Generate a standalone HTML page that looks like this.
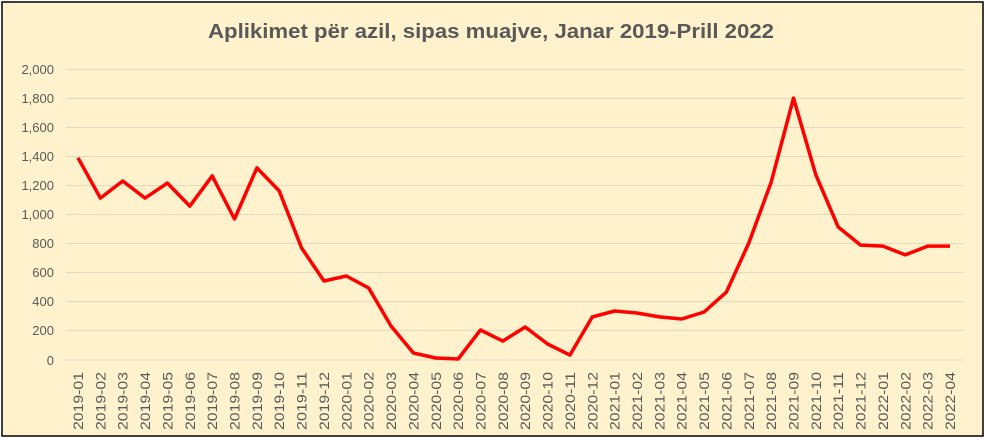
<!DOCTYPE html>
<html><head><meta charset="utf-8"><style>
html,body{margin:0;padding:0;background:#fff;}
svg{display:block;font-family:"Liberation Sans",sans-serif;}
</style></head><body>
<svg width="985" height="440" viewBox="0 0 985 440" xmlns="http://www.w3.org/2000/svg">
<rect x="2" y="2" width="981" height="434" fill="#FFF2CC" stroke="#000" stroke-width="1.5"/>
<text x="491" y="38" text-anchor="middle" font-size="20" font-weight="bold" fill="#595959" textLength="566" lengthAdjust="spacingAndGlyphs">Aplikimet për azil, sipas muajve, Janar 2019-Prill 2022</text>
<g stroke="#E3D9BE" stroke-width="1">
<line x1="66" x2="963" y1="69.5" y2="69.5"/><line x1="66" x2="963" y1="98.5" y2="98.5"/><line x1="66" x2="963" y1="127.5" y2="127.5"/><line x1="66" x2="963" y1="156.5" y2="156.5"/><line x1="66" x2="963" y1="185.5" y2="185.5"/><line x1="66" x2="963" y1="214.5" y2="214.5"/><line x1="66" x2="963" y1="243.5" y2="243.5"/><line x1="66" x2="963" y1="272.5" y2="272.5"/><line x1="66" x2="963" y1="301.5" y2="301.5"/><line x1="66" x2="963" y1="330.5" y2="330.5"/><line x1="66" x2="963" y1="360" y2="360"/>
</g>
<g font-size="13" fill="#595959" text-anchor="end">
<text x="54" y="74">2,000</text><text x="54" y="103">1,800</text><text x="54" y="132">1,600</text><text x="54" y="161">1,400</text><text x="54" y="190">1,200</text><text x="54" y="219">1,000</text><text x="54" y="248">800</text><text x="54" y="277">600</text><text x="54" y="306">400</text><text x="54" y="335">200</text><text x="54" y="365">0</text>
</g>
<g id="xl" font-size="14" fill="#595959" text-anchor="end"></g>
<polyline id="ln" fill="none" stroke="#FF0000" stroke-width="3.5" stroke-linejoin="round" points=""/>
<script>
var v=[1390,1113,1230,1113,1216,1058,1265,969,1320,1162,770,543,577,495,234,48,14,7,206,130,227,110,34,296,337,323,296,282,330,467,804,1223,1800,1271,914,790,783,722,783,783];
var pts=[],g=document.getElementById('xl'),ns='http://www.w3.org/2000/svg';
for(var i=0;i<40;i++){var x=78+i*22.36,y=360-v[i]*0.1455;pts.push(x.toFixed(1)+','+y.toFixed(1));
var yr=2019+Math.floor(i/12),m=(i%12)+1;var t=document.createElementNS(ns,'text');
t.setAttribute('transform','translate('+(x+5)+',372) rotate(-90)');t.setAttribute('textLength','58');t.setAttribute('lengthAdjust','spacingAndGlyphs');
t.textContent=yr+'-'+(m<10?'0':'')+m;g.appendChild(t);}
document.getElementById('ln').setAttribute('points',pts.join(' '));
</script>
</svg>
</body></html>
